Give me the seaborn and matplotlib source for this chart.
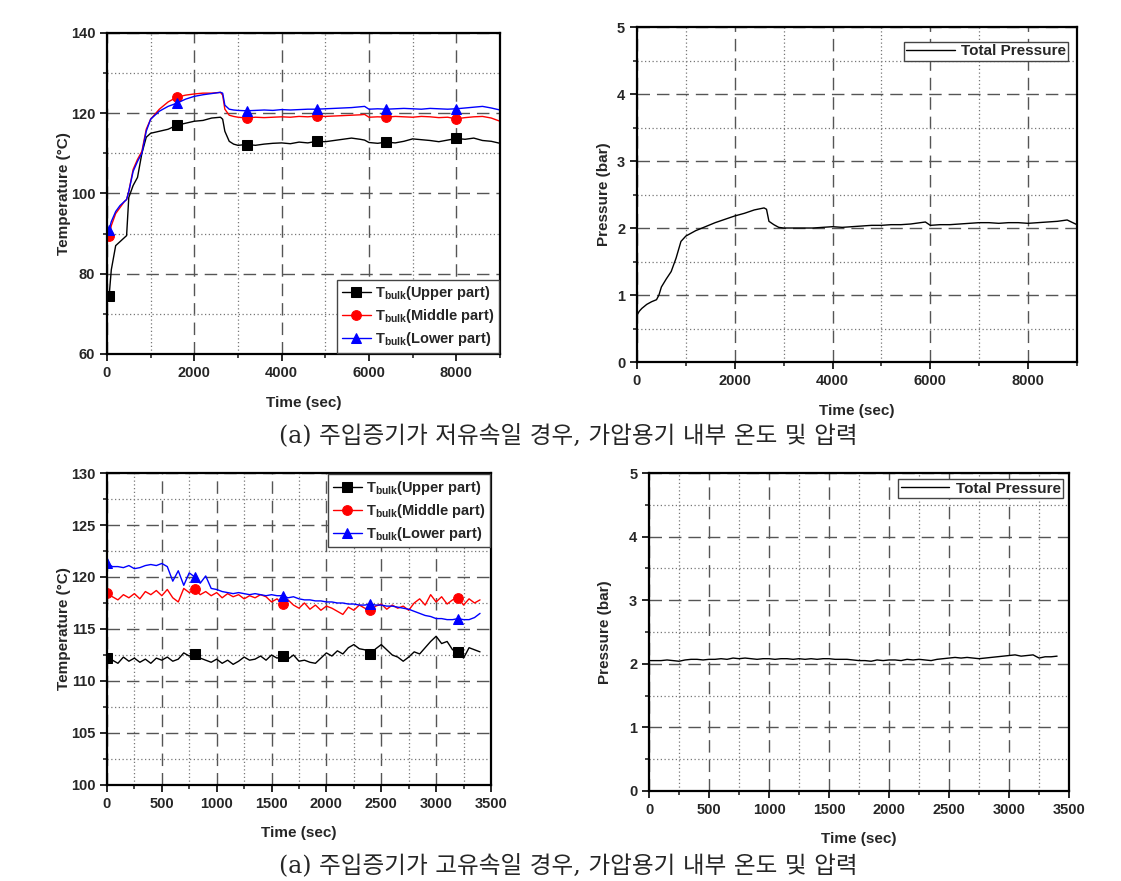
import matplotlib
matplotlib.use("Agg")
import matplotlib.pyplot as plt
import seaborn as sns
from matplotlib.ticker import MultipleLocator

# ---- data ----
# top row: low injection velocity
t_top = [0, 50, 100, 200, 300, 400, 450, 500, 600, 700,
         800, 900, 1000, 1200, 1400, 1600, 1800, 2000, 2200, 2400,
         2600, 2650, 2700, 2800, 2900, 3000, 3200, 3400, 3600, 3800,
         4000, 4200, 4400, 4600, 4800, 5000, 5200, 5400, 5600, 5800,
         5900, 6000, 6200, 6400, 6600, 6800, 7000, 7200, 7400, 7600,
         7800, 8000, 8200, 8400, 8600, 8800, 9000]
upper_a = [74, 74.5, 81, 87, 88, 89, 89.5, 99, 102, 104,
           110, 114, 115, 115.5, 116, 117, 117.5, 118, 118.2, 118.8,
           119, 118.5, 115.5, 113, 112.3, 112, 112.2, 112, 112.3, 112.5,
           112.6, 112.4, 112.8, 112.6, 113, 112.9, 113.2, 113.5, 113.8, 113.5,
           113.3, 112.7, 112.5, 112.8, 112.6, 113.0, 113.6, 113.4, 113.2, 112.9,
           113.3, 113.7, 113.5, 113.8, 113.2, 113.0, 112.5]
middle_a = [89, 89.5, 92, 95, 96.5, 98, 98.5, 100.5, 106, 108.5,
            110.5, 116, 118.5, 121, 122.8, 124, 124.5, 124.8, 125, 125,
            125.2, 124.5, 121, 119.5, 119.2, 119, 118.8, 119, 118.9, 119,
            119.1, 119, 119.2, 119.1, 119.3, 119.2, 119.3, 119.4, 119.5, 119.6,
            119.7, 119, 119.1, 119, 119.2, 119.1, 119, 119.2, 119.1, 118.9,
            119, 118.6, 118.9, 119.1, 119.2, 118.8, 118]
lower_a = [90.5, 91, 93, 95.5, 97, 98, 98.5, 100.5, 105.5, 108,
           110, 115.5, 118.5, 120.5, 121.7, 122.5, 123.5, 124.2, 124.6, 124.9,
           125.2, 125, 122, 121, 120.8, 120.7, 120.6, 120.7, 120.8, 120.7,
           120.9, 120.8, 120.9, 121, 121, 121.1, 121.2, 121.3, 121.4, 121.6,
           121.7, 121, 121.1, 121, 121.1, 121.2, 121.1, 121, 121.2, 121.1,
           121, 121.1, 121.3, 121.5, 121.7, 121.3, 120.8]
press_a = [0.7, 0.76, 0.8, 0.86, 0.9, 0.93, 1.0, 1.12, 1.24, 1.35,
           1.55, 1.8, 1.88, 1.96, 2.02, 2.08, 2.13, 2.18, 2.22, 2.27,
           2.3, 2.28, 2.1, 2.05, 2.01, 2.0, 2.0, 2.0, 2.0, 2.01,
           2.02, 2.01, 2.02, 2.03, 2.04, 2.04, 2.05, 2.05, 2.06, 2.08,
           2.09, 2.04, 2.05, 2.05, 2.06, 2.07, 2.08, 2.08, 2.07, 2.08,
           2.08, 2.07, 2.08, 2.09, 2.1, 2.12, 2.05]
marks_top = [50, 1600, 3200, 4800, 6400, 8000]

# bottom row: high injection velocity
t_bot = list(range(0, 3450, 50))
upper_b = [112.2, 112.0, 111.7, 112.3, 111.9, 112.2, 111.8, 112.1, 111.7, 112.2,
           112.0, 112.3, 111.9, 112.1, 112.7, 112.4, 112.6, 112.2, 112.0, 111.8,
           112.1, 111.7, 112.0, 111.6, 111.9, 112.3, 112.0, 112.1, 112.4, 112.0,
           112.5, 112.2, 112.4, 112.1, 112.5, 111.9, 112.0, 111.8, 111.7, 112.2,
           112.7, 112.4, 112.9, 112.6, 113.2, 113.5, 113.1, 113.0, 112.6, 113.1,
           113.5, 113.0, 112.5, 112.3, 111.9, 112.3, 112.8, 112.6, 113.2, 113.8,
           114.3, 113.6, 113.8, 113.0, 112.8, 112.2, 113.2, 113.0, 112.8]
middle_b = [118.5, 118.1, 117.8, 118.3, 118.0, 118.4, 117.9, 118.6, 118.3, 118.7,
            118.2, 118.8, 118.0, 117.6, 118.9, 118.5, 118.8, 118.3, 118.6, 118.2,
            118.5, 118.0, 118.4, 118.1, 118.3, 117.9, 118.2, 118.0, 118.3, 118.1,
            117.6, 117.9, 117.4, 117.8, 117.3, 117.0, 117.5, 116.9, 117.3, 116.8,
            117.2, 117.0, 116.7, 116.4, 117.1, 116.8, 117.3, 117.0, 116.8, 117.2,
            117.4, 116.9, 117.3, 117.0, 117.2, 116.8, 117.5, 117.9, 117.3, 118.3,
            117.6, 118.1, 117.4, 117.8, 118.0, 117.3, 117.9, 117.5, 117.8]
lower_b = [121.3, 121.0, 121.0, 120.9, 121.1, 120.8, 120.9, 121.1, 121.2, 121.1,
           121.3, 121.0, 119.6, 120.6, 119.2, 120.4, 120.0, 119.4, 120.1, 118.9,
           118.8, 118.6, 118.5, 118.4, 118.5, 118.4, 118.3, 118.4, 118.3, 118.2,
           118.3, 118.2, 118.2, 118.0, 118.1, 117.9, 117.8, 117.8, 117.7, 117.7,
           117.6, 117.6, 117.5, 117.5, 117.4, 117.4, 117.3, 117.3, 117.4, 117.3,
           117.3, 117.2, 117.2, 117.1, 117.0, 116.9, 116.7, 116.5, 116.3, 116.2,
           116.0, 116.0, 115.9, 115.9, 116.0, 115.9, 115.9, 116.1, 116.5]
press_b = [2.05, 2.05, 2.05, 2.06, 2.05, 2.04, 2.06, 2.07, 2.07, 2.06,
           2.07, 2.07, 2.08, 2.07, 2.09, 2.08, 2.09, 2.08, 2.07, 2.08,
           2.08, 2.07, 2.08, 2.08, 2.07, 2.08, 2.07, 2.08, 2.07, 2.08,
           2.08, 2.07, 2.07, 2.07, 2.06, 2.05, 2.05, 2.04, 2.06, 2.05,
           2.06, 2.06, 2.05, 2.07, 2.06, 2.07, 2.06, 2.05, 2.07, 2.08,
           2.09, 2.10, 2.09, 2.10, 2.09, 2.08, 2.09, 2.10, 2.11, 2.12,
           2.13, 2.14, 2.12, 2.13, 2.14, 2.09, 2.11, 2.11, 2.12]
marks_bot = [0, 800, 1600, 2400, 3200]

labels = [r"$\mathbf{T_{bulk}}$(Upper part)",
          r"$\mathbf{T_{bulk}}$(Middle part)",
          r"$\mathbf{T_{bulk}}$(Lower part)"]
captions = ["(a) 주입증기가 저유속일 경우, 가압용기 내부 온도 및 압력",
            "(a) 주입증기가 고유속일 경우, 가압용기 내부 온도 및 압력"]

sns.set_style("ticks")
plt.rcParams["font.family"] = ["Liberation Sans", "DejaVu Sans"]
plt.rcParams["font.weight"] = "bold"
plt.rcParams["axes.labelweight"] = "bold"
plt.rcParams["mathtext.fontset"] = "custom"
plt.rcParams["mathtext.rm"] = "Liberation Sans:bold"
plt.rcParams["mathtext.bf"] = "Liberation Sans:bold"

fig = plt.figure(figsize=(11.21, 8.81), dpi=100)
ax_tl = fig.add_axes([0.0954, 0.5982, 0.3506, 0.3644])
ax_tr = fig.add_axes([0.5682, 0.5891, 0.3925, 0.3802])
ax_bl = fig.add_axes([0.0954, 0.1090, 0.3426, 0.3541])
ax_br = fig.add_axes([0.5790, 0.1022, 0.3747, 0.3609])


def style_axes(ax, xlim, ylim, xmaj, xmin, ymaj, ymin, ylabel, xpad, ypad):
    ax.set_xlim(*xlim)
    ax.set_ylim(*ylim)
    ax.xaxis.set_major_locator(MultipleLocator(xmaj))
    ax.xaxis.set_minor_locator(MultipleLocator(xmin))
    ax.yaxis.set_major_locator(MultipleLocator(ymaj))
    ax.yaxis.set_minor_locator(MultipleLocator(ymin))
    ax.grid(which="major", color="#555555", linestyle=(0, (9, 5)), linewidth=1.0)
    ax.grid(which="minor", color="#777777", linestyle=(0, (1, 2)), linewidth=0.9)
    ax.set_axisbelow(True)
    for s in ax.spines.values():
        s.set_linewidth(1.6)
        s.set_color("black")
    ax.tick_params(which="major", direction="out", length=5, width=1.4, labelsize=10.5)
    ax.tick_params(which="minor", direction="out", length=3, width=1.2)
    ax.set_xlabel("Time (sec)", fontsize=11, labelpad=xpad)
    ax.set_ylabel(ylabel, fontsize=11, labelpad=ypad)


def temp_panel(ax, t, series, marks, legend_loc):
    idx = [t.index(m) for m in marks]
    colors = ["black", "red", "blue"]
    shapes = ["s", "o", "^"]
    for y, c, m, lab in zip(series, colors, shapes, labels):
        sns.lineplot(x=t, y=y, ax=ax, color=c, linewidth=1.0, marker=m,
                     markevery=idx, markersize=7, markeredgecolor=c,
                     markerfacecolor=c, label=lab, errorbar=None)
    leg = ax.legend(loc=legend_loc, frameon=True, fancybox=False,
                    edgecolor="#444444", framealpha=1, borderaxespad=0.1,
                    handlelength=2.0, handletextpad=0.25, labelspacing=0.35,
                    borderpad=0.3, prop={"weight": "bold", "size": 10.5})
    leg.get_frame().set_linewidth(1.0)


def press_panel(ax, t, p, anchor):
    sns.lineplot(x=t, y=p, ax=ax, color="black", linewidth=1.0,
                 label="Total Pressure", errorbar=None)
    leg = ax.legend(loc="upper right", bbox_to_anchor=anchor, frameon=True,
                    fancybox=False, edgecolor="#444444", framealpha=1,
                    borderaxespad=0.0, handlelength=3.2, handletextpad=0.4,
                    borderpad=0.15, prop={"weight": "bold", "size": 11})
    leg.get_frame().set_linewidth(1.0)


temp_panel(ax_tl, t_top, [upper_a, middle_a, lower_a], marks_top, "lower right")
style_axes(ax_tl, (0, 9000), (60, 140), 2000, 1000, 20, 10, "Temperature (°C)", 12, 0)

press_panel(ax_tr, t_top, press_a, (0.98, 0.955))
style_axes(ax_tr, (0, 9000), (0, 5), 2000, 1000, 1, 0.5, "Pressure (bar)", 12, 4)

temp_panel(ax_bl, t_bot, [upper_b, middle_b, lower_b], marks_bot, "upper right")
style_axes(ax_bl, (0, 3500), (100, 130), 500, 250, 5, 2.5, "Temperature (°C)", 11, 0)

press_panel(ax_br, t_bot, press_b, (0.985, 0.98))
style_axes(ax_br, (0, 3500), (0, 5), 500, 250, 1, 0.5, "Pressure (bar)", 11, 12)

cap_font = ["DejaVu Serif", "Noto Sans CJK KR"]
fig.text(0.507, 1 - 436 / 881, captions[0], ha="center", va="center",
         fontsize=17, family=cap_font, weight="normal")
fig.text(0.507, 1 - 866 / 881, captions[1], ha="center", va="center",
         fontsize=17, family=cap_font, weight="normal")

fig.savefig("out.png", dpi=100)
